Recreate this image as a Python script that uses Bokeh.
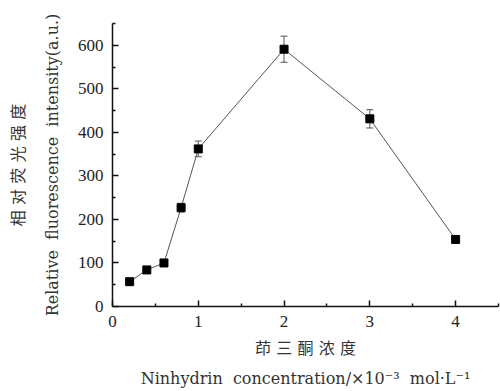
from bokeh.plotting import figure
from bokeh.models import ColumnDataSource, Whisker, TeeHead, Range1d, FixedTicker
from bokeh.embed import file_html
from bokeh.resources import INLINE

conc = [0.2, 0.4, 0.6, 0.8, 1.0, 2.0, 3.0, 4.0]
intensity = [57, 84, 100, 227, 362, 591, 431, 154]
err = [5, 5, 5, 10, 18, 30, 21, 5]
x_ticks = [0, 1, 2, 3, 4]
y_ticks = [0, 100, 200, 300, 400, 500, 600]

src = ColumnDataSource(dict(
    x=conc, y=intensity,
    upper=[v + e for v, e in zip(intensity, err)],
    lower=[v - e for v, e in zip(intensity, err)],
))

p = figure(width=500, height=391, output_backend="svg", toolbar_location=None,
           x_range=Range1d(0, 4.5), y_range=Range1d(0, 650),
           min_border_left=112, min_border_right=2, min_border_top=23, min_border_bottom=85)
p.outline_line_color = None
p.grid.visible = False
p.background_fill_color = "white"
p.border_fill_color = "white"

font = "DejaVu Serif, Noto Sans CJK SC"
for ax in (p.xaxis[0], p.yaxis[0]):
    ax.axis_line_color = "#111111"
    ax.axis_line_width = 1.5
    ax.major_tick_in = 6
    ax.major_tick_out = 0
    ax.minor_tick_in = 3
    ax.minor_tick_out = 0
    ax.major_tick_line_color = "#111111"
    ax.minor_tick_line_color = "#111111"
    ax.major_tick_line_width = 1.5
    ax.minor_tick_line_width = 1.5
    ax.major_label_text_font = "Liberation Serif"
    ax.major_label_text_font_size = "17px"
    ax.major_label_text_color = "#222222"
    ax.axis_label_text_font = font
    ax.axis_label_text_font_size = "16px"
    ax.axis_label_text_font_style = "normal"
    ax.axis_label_text_color = "#333333"

p.xaxis[0].axis_label_text_line_height = 1.6
p.yaxis[0].axis_label_text_line_height = 1.8
p.xaxis[0].axis_label_standoff = 9
p.yaxis[0].axis_label_standoff = 13

p.xaxis[0].ticker = FixedTicker(ticks=x_ticks, minor_ticks=[0.5, 1.5, 2.5, 3.5, 4.5])
p.yaxis[0].ticker = FixedTicker(ticks=y_ticks, minor_ticks=[50, 150, 250, 350, 450, 550, 650])
p.xaxis[0].major_label_standoff = 9
p.yaxis[0].major_label_standoff = 9

sp = "\u2004"
p.xaxis[0].axis_label = sp.join("茚三酮浓度") + "\nNinhydrin\u00a0\u00a0concentration/×10⁻³\u00a0\u00a0mol·L⁻¹"
p.yaxis[0].axis_label = sp.join("相对荧光强度") + "\nRelative\u00a0\u00a0fluorescence\u00a0\u00a0intensity(a.u.)"

p.line("x", "y", source=src, line_color="#555555", line_width=1)
w = Whisker(base="x", upper="upper", lower="lower", source=src, dimension="height",
            line_color="#555555", line_width=1)
w.upper_head = TeeHead(size=7, line_color="#555555", line_width=1)
w.lower_head = TeeHead(size=7, line_color="#555555", line_width=1)
p.add_layout(w)
p.scatter("x", "y", source=src, marker="square", size=8, fill_color="black", line_color="black")

open("out.html", "w").write(file_html(p, INLINE))
